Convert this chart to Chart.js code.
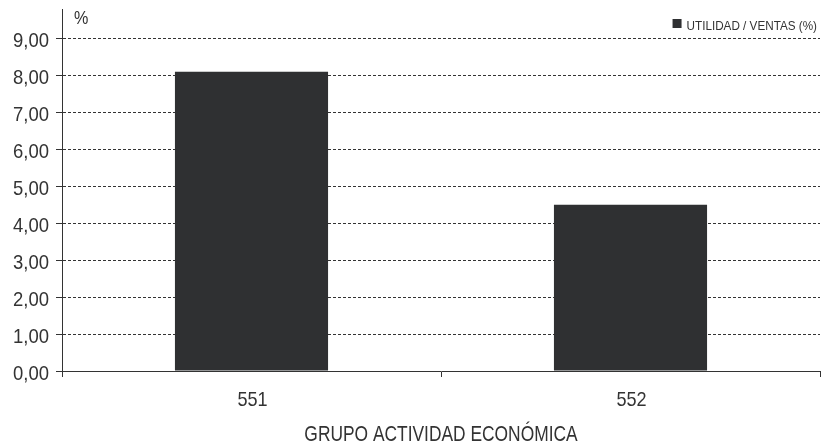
<!DOCTYPE html>
<html>
<head>
<meta charset="utf-8">
<script src="https://cdn.jsdelivr.net/npm/chart.js@4"></script>
<style>
  html, body { margin: 0; padding: 0; background: #fff; }
  #wrap { position: relative; width: 830px; height: 445px; }
</style>
</head>
<body>
<div id="wrap"><canvas id="chart" width="830" height="445"></canvas></div>
<script>
// Data
const categories = ['551', '552'];
const utilidadVentas = [8.1, 4.5];
const yTicks = [0, 1, 2, 3, 4, 5, 6, 7, 8, 9];
const seriesName = 'UTILIDAD / VENTAS (%)';
const xTitle = 'GRUPO ACTIVIDAD ECONÓMICA';

const ink = '#333333';
const barColor = '#2f3032';
const family = '"Liberation Sans", Arial, sans-serif';

// no condensed face is installed, so squeeze the regular one horizontally
function drawNarrow(ctx, text, x, y, size, sx, align) {
  ctx.save();
  ctx.font = size + 'px ' + family;
  ctx.textBaseline = 'alphabetic';
  const w = ctx.measureText(text).width * sx;
  let left = x;
  if (align === 'center') left = x - w / 2;
  if (align === 'right') left = x - w;
  ctx.translate(left, y);
  ctx.scale(sx, 1);
  ctx.fillText(text, 0, 0);
  ctx.restore();
  return w;
}

// all text of the chart: tick labels, axis title, unit and legend
const texts = {
  id: 'texts',
  afterDraw(chart) {
    const ctx = chart.ctx;
    const area = chart.chartArea;
    const xs = chart.scales.x;
    const ys = chart.scales.y;
    ctx.save();
    ctx.fillStyle = ink;

    ys.ticks.forEach(t => {
      const y = ys.getPixelForValue(t.value);
      drawNarrow(ctx, t.value.toFixed(2).replace('.', ','), area.left - 13, y + 8.5, 21, 0.88, 'right');
    });

    chart.data.labels.forEach((lab, i) => {
      drawNarrow(ctx, lab, xs.getPixelForTick(i) + 1, area.bottom + 35, 21, 0.86, 'center');
    });

    drawNarrow(ctx, xTitle, (area.left + area.right) / 2, 441, 22, 0.79, 'center');
    drawNarrow(ctx, '%', area.left + 12, 24, 19, 0.85, 'left');

    // legend, right aligned in the top corner
    const w = drawNarrow(ctx, seriesName, area.right - 3, 29.5, 13, 0.9, 'right');
    ctx.fillStyle = barColor;
    ctx.fillRect(area.right - 3 - w - 14, 19, 9, 9);
    ctx.restore();
  }
};

new Chart(document.getElementById('chart'), {
  type: 'bar',
  data: {
    labels: categories,
    datasets: [{
      label: seriesName,
      data: utilidadVentas,
      backgroundColor: barColor,
      borderWidth: 0,
      categoryPercentage: 0.8,
      barPercentage: 0.505
    }]
  },
  options: {
    responsive: false,
    animation: false,
    layout: { padding: { left: 0, right: 10, top: 9, bottom: 0 } },
    plugins: {
      legend: { display: false },
      tooltip: { enabled: false }
    },
    scales: {
      x: {
        offset: true,
        afterFit(axis) {
          axis.height = 74;
          axis.paddingLeft = 0;
          axis.paddingRight = 0;
        },
        grid: {
          drawOnChartArea: false,
          drawTicks: true,
          tickLength: 6,
          color: ink
        },
        border: { color: ink, width: 1 },
        ticks: { display: false }
      },
      y: {
        min: 0,
        max: 9.8,
        afterBuildTicks(axis) {
          axis.ticks = yTicks.map(v => ({ value: v }));
        },
        afterFit(axis) {
          axis.width = 62;
          axis.paddingTop = 0;
          axis.paddingBottom = 0;
        },
        grid: {
          color: ink,
          tickLength: 6,
          drawTicks: true
        },
        border: { color: ink, width: 1, dash: [3, 2] },
        ticks: { display: false }
      }
    }
  },
  plugins: [texts]
});
</script>
</body>
</html>
